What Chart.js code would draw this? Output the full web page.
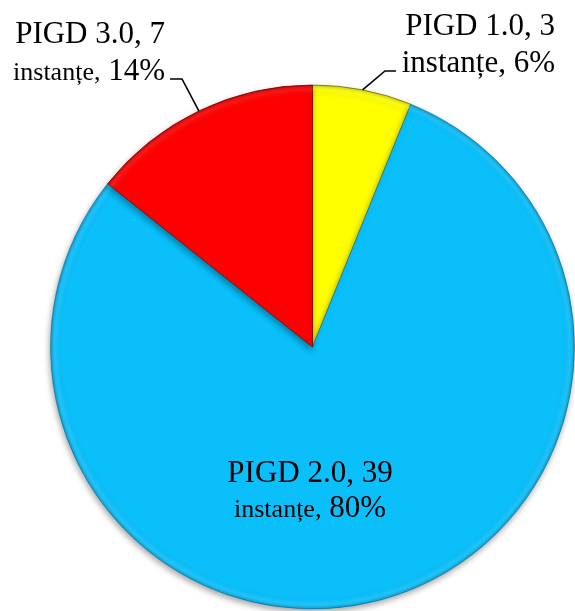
<!DOCTYPE html>
<html>
<head>
<meta charset="utf-8">
<script src="https://cdn.jsdelivr.net/npm/chart.js@4/dist/chart.umd.min.js"></script>
<style>
html,body{margin:0;padding:0;background:#fff;}
#wrap{width:575px;height:611px;position:relative;}
</style>
</head>
<body>
<div id="wrap"><canvas id="c" width="575" height="611"></canvas></div>
<script>
const categories = ["PIGD 1.0", "PIGD 2.0", "PIGD 3.0"];
const instances = [3, 39, 7];
const percents = ["6%", "80%", "14%"];
const colors = ["#FFFF00", "#0ABFFA", "#FF0000"];

const FONT = '"Liberation Serif", "Times New Roman", serif';

const labelSpec = [
  {x: 555, y1: 35, y2: 72, align: 'right', small: false, leader: {textX: 396, textY: 71, elbowX: 385}},
  {x: 310, y1: 482, y2: 517, align: 'center', small: true, leader: null},
  {x: 165, y1: 43, y2: 80, align: 'right', small: true, leader: {textX: 170, textY: 79, elbowX: 182}}
];

const labelPlugin = {
  id: 'labels',
  afterDatasetsDraw(chart) {
    const ctx = chart.ctx;
    const meta = chart.getDatasetMeta(0);
    ctx.save();
    ctx.fillStyle = '#000';
    ctx.textBaseline = 'alphabetic';
    meta.data.forEach((arc, i) => {
      const s = labelSpec[i];
      const big = '31px ' + FONT;
      const sm = '26px ' + FONT;
      const line1 = categories[i] + ', ' + instances[i];
      const w1 = 'instanțe,';
      const w2 = ' ' + percents[i];
      ctx.font = big;
      ctx.textAlign = s.align;
      ctx.fillText(line1, s.x, s.y1);
      ctx.font = s.small ? sm : big;
      const wa = ctx.measureText(w1).width;
      ctx.font = big;
      const wb = ctx.measureText(w2).width;
      const total = wa + wb;
      let startX;
      if (s.align === 'right') startX = s.x - total;
      else if (s.align === 'center') startX = s.x - total / 2;
      else startX = s.x;
      ctx.textAlign = 'left';
      ctx.font = s.small ? sm : big;
      ctx.fillText(w1, startX, s.y2);
      ctx.font = big;
      ctx.fillText(w2, startX + wa, s.y2);
      if (s.leader) {
        const p = arc.getProps(['x', 'y', 'startAngle', 'endAngle', 'outerRadius']);
        const mid = (p.startAngle + p.endAngle) / 2;
        const ex = p.x + Math.cos(mid) * p.outerRadius;
        const ey = p.y + Math.sin(mid) * p.outerRadius;
        ctx.beginPath();
        ctx.strokeStyle = '#000';
        ctx.lineWidth = 1.6;
        ctx.moveTo(s.leader.textX, s.leader.textY);
        ctx.lineTo(s.leader.elbowX, s.leader.textY);
        ctx.lineTo(ex, ey);
        ctx.stroke();
      }
    });
    ctx.restore();
  }
};

const shadowPlugin = {
  id: 'shadow',
  beforeDatasetsDraw(chart) {
    const ctx = chart.ctx;
    ctx.save();
    ctx.shadowColor = 'rgba(0,0,0,0.35)';
    ctx.shadowBlur = 6;
    ctx.shadowOffsetX = -1;
    ctx.shadowOffsetY = 3;
  },
  afterDatasetsDraw(chart) {
    chart.ctx.restore();
    const meta = chart.getDatasetMeta(0);
    const a = meta.data[0];
    const p = a.getProps(['x', 'y', 'outerRadius']);
    const ctx = chart.ctx;
    ctx.save();
    const g = ctx.createRadialGradient(p.x, p.y, p.outerRadius - 12, p.x, p.y, p.outerRadius);
    g.addColorStop(0, 'rgba(0,0,0,0)');
    g.addColorStop(0.6, 'rgba(255,255,255,0.08)');
    g.addColorStop(1, 'rgba(0,0,0,0.22)');
    ctx.fillStyle = g;
    ctx.beginPath();
    ctx.arc(p.x, p.y, p.outerRadius, 0, Math.PI * 2);
    ctx.fill();
    ctx.restore();
  }
};

new Chart(document.getElementById('c'), {
  type: 'pie',
  data: {
    labels: categories,
    datasets: [{
      data: instances,
      backgroundColor: colors,
      borderColor: ['rgba(90,90,0,0.6)', 'rgba(0,90,140,0.4)', 'rgba(110,0,0,0.7)'],
      borderWidth: 1
    }]
  },
  options: {
    responsive: false,
    animation: false,
    rotation: 0,
    layout: {padding: {top: 84, bottom: 1, left: 50, right: 0}},
    plugins: {
      legend: {display: false},
      tooltip: {enabled: false},
      title: {display: false}
    }
  },
  plugins: [shadowPlugin, labelPlugin]
});
</script>
</body>
</html>
